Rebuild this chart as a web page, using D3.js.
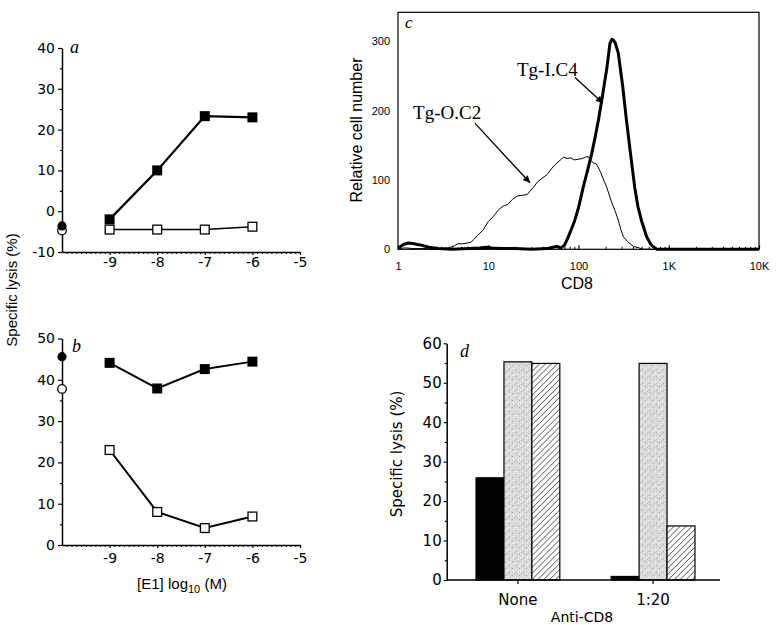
<!DOCTYPE html>
<html><head><meta charset="utf-8">
<script src="https://cdn.jsdelivr.net/npm/d3@7"></script>
<style>body{margin:0;background:#fff}svg{display:block}</style>
</head><body>
<script>
// ---------- data ----------
const doseLog = [-9, -8, -7, -6];
const doseTicks = [-9, -8, -7, -6, -5];
const aFilled = [-2.0, 10.0, 23.3, 23.0];
const aOpen = [-4.5, -4.5, -4.5, -3.8];
const aNoPeptide = [-3.6, -4.7];          // filled, open (no peptide)
const aYTicks = [-10, 0, 10, 20, 30, 40];
const bFilled = [44.1, 37.9, 42.6, 44.4];
const bOpen = [23.0, 8.0, 4.1, 6.9];
const bNoPeptide = [45.6, 37.8];
const bYTicks = [0, 10, 20, 30, 40, 50];

const cTicksX = [1, 10, 100, 1000, 10000];
const cTickLabelsX = ["1", "10", "100", "1K", "10K"];
const cTicksY = [0, 100, 200, 300];
const cNames = ["Tg-O.C2", "Tg-I.C4"];
const tgOC2 = [[1.0,1],[1.2,2],[1.5,1],[2.0,1],[2.5,0],[3.0,1],[3.6,2],[4.2,5],[4.6,8],[5.2,8],[5.8,9],[6.4,10],[6.9,14],[7.6,20],[8.8,28],[10,40],[11.5,48],[13,57],[14.5,62],[16.5,65],[18.5,72],[21,77],[24,78],[27,79],[29,84],[31.5,89],[35,97],[40,103],[45,108],[50,116],[55,122],[62,128],[68,133],[75,131],[82,132],[90,129],[100,130],[110,131],[120,133],[128,134],[135,129],[145,125],[158,123],[175,112],[190,100],[205,90],[230,70],[255,55],[276,42],[295,28],[315,18],[350,11],[408,4],[470,2],[520,0],[10000,0]];
const tgIC4 = [[1.0,2],[1.15,7],[1.3,9],[1.5,8],[1.8,6],[2.2,3],[2.8,1],[4,0],[6,1],[8,2],[9.5,3],[11,2],[14,1],[20,1],[30,0],[45,1],[52,3],[58,4],[64,2],[70,6],[77,18],[84,30],[91,42],[100,60],[113,90],[126,114],[140,138],[153,162],[166,186],[181,215],[193,238],[205,259],[223,297],[235,303],[243,302],[255,298],[276,283],[309,235],[340,186],[377,138],[419,90],[455,62],[497,42],[569,18],[640,6],[735,0],[10000,0]];

const dGroups = ["None", "1:20"];
const dSeries = ["solid", "stippled", "hatched"];
const dSolid = [25.9, 0.9];
const dStippled = [55.3, 54.9];
const dHatched = [54.9, 13.7];
const dYTicks = [0, 10, 20, 30, 40, 50, 60];

// ---------- drawing ----------
const svg = d3.select("body").append("svg").attr("width", 779).attr("height", 625)
  .style("background", "#fff");
const defs = svg.append("defs");

const NUMFONT = "'DejaVu Sans', sans-serif";
const SANS = "'Liberation Sans', Arial, sans-serif";
const SERIF = "'Liberation Serif', 'Times New Roman', serif";
const plain = d => String(d);

function styleAxis(g, font, size) {
  g.attr("font-family", font).attr("font-size", size);
  g.selectAll("text").attr("fill", "#000");
  g.selectAll("line").attr("stroke", "#000").attr("stroke-width", 1.2);
  g.selectAll("path.domain").attr("stroke", "#000").attr("stroke-width", 1.5);
}

function linePanel(opt) {
  const x = d3.scaleLinear().domain([-10, -5]).range([62, 300]);
  const y = d3.scaleLinear().domain(opt.yDomain).range(opt.yRange);
  const g = svg.append("g");
  // y axis
  const ya = g.append("g").attr("transform", `translate(${x(-10)},0)`)
    .call(d3.axisLeft(y).tickValues(opt.yTicks).tickFormat(plain).tickSizeInner(4).tickSizeOuter(0).tickPadding(3));
  styleAxis(ya, NUMFONT, 14);
  const yMinor = d3.range(opt.yDomain[0] + 5, opt.yDomain[1], 10);
  const ym = g.append("g").attr("transform", `translate(${x(-10)},0)`)
    .call(d3.axisLeft(y).tickValues(yMinor).tickSize(2).tickFormat(""));
  ym.select(".domain").remove();
  styleAxis(ym, NUMFONT, 14);
  // x axis
  const xa = g.append("g").attr("transform", `translate(0,${y(opt.yDomain[0])})`)
    .call(d3.axisBottom(x).tickValues(doseTicks).tickFormat(plain).tickSizeInner(3).tickSizeOuter(0).tickPadding(opt.xPad));
  styleAxis(xa, NUMFONT, 14);
  const xMinor = d3.range(-99, -50).map(v => v / 10).filter(v => Math.abs(v - Math.round(v)) > 1e-6);
  const xm = g.append("g").attr("transform", `translate(0,${y(opt.yDomain[0])})`)
    .call(d3.axisBottom(x).tickValues(xMinor).tickSize(2).tickFormat(""));
  xm.select(".domain").remove();
  styleAxis(xm, NUMFONT, 14);
  xm.selectAll("line").attr("stroke-width", 1);

  const line = d3.line().x((d, i) => x(doseLog[i])).y(d => y(d));
  g.append("path").datum(opt.open).attr("d", line).attr("fill", "none")
    .attr("stroke", "#000").attr("stroke-width", opt.openW);
  g.append("path").datum(opt.filled).attr("d", line).attr("fill", "none")
    .attr("stroke", "#000").attr("stroke-width", opt.filledW);
  const s = 10;
  g.selectAll(".of").data(opt.open).join("rect")
    .attr("x", (d, i) => x(doseLog[i]) - s / 2 + 0.6).attr("y", d => y(d) - s / 2 + 0.6)
    .attr("width", s - 1.2).attr("height", s - 1.2)
    .attr("fill", "#fff").attr("stroke", "#000").attr("stroke-width", 1.3);
  g.selectAll(".ff").data(opt.filled).join("rect")
    .attr("x", (d, i) => x(doseLog[i]) - s / 2).attr("y", d => y(d) - s / 2)
    .attr("width", s).attr("height", s).attr("fill", "#000");
  // no-peptide controls on the axis
  g.append("circle").attr("cx", x(-10)).attr("cy", y(opt.noPep[1])).attr("r", 4.3)
    .attr("fill", "#fff").attr("stroke", "#000").attr("stroke-width", 1.3);
  g.append("circle").attr("cx", x(-10)).attr("cy", y(opt.noPep[0])).attr("r", 4.6)
    .attr("fill", "#000");
  g.append("text").attr("x", opt.letterX).attr("y", opt.letterY).text(opt.letter)
    .attr("font-family", SERIF).attr("font-style", "italic").attr("font-size", 18);
  return {x, y};
}

linePanel({yDomain: [-10, 40], yRange: [252, 48], yTicks: aYTicks, filled: aFilled, open: aOpen,
  noPep: aNoPeptide, filledW: 2.2, openW: 1.4, xPad: 2, letter: "a", letterX: 70, letterY: 53});
linePanel({yDomain: [0, 50], yRange: [545, 338.5], yTicks: bYTicks, filled: bFilled, open: bOpen,
  noPep: bNoPeptide, filledW: 2, openW: 2, xPad: 5, letter: "b", letterX: 72, letterY: 352});

svg.append("text").attr("transform", "translate(17,290) rotate(-90)")
  .attr("text-anchor", "middle").attr("font-family", SANS).attr("font-size", 15)
  .text("Specific lysis (%)");
const xl = svg.append("text").attr("x", 182).attr("y", 589).attr("text-anchor", "middle")
  .attr("font-family", SANS).attr("font-size", 15);
xl.append("tspan").text("[E1] log");
xl.append("tspan").attr("dy", 4).attr("font-size", 11).text("10");
xl.append("tspan").attr("dy", -4).text(" (M)");

// ---------- panel c ----------
{
  const x = d3.scaleLog().domain([1, 10000]).range([398, 759]);
  const y = d3.scaleLinear().domain([0, 342]).range([249.3, 12.3]);
  const g = svg.append("g");
  g.append("rect").attr("x", x(1)).attr("y", y(342)).attr("width", x(10000) - x(1))
    .attr("height", y(0) - y(342)).attr("fill", "none").attr("stroke", "#000").attr("stroke-width", 1.2);
  const xa = g.append("g").attr("transform", `translate(0,${y(0)})`)
    .call(d3.axisBottom(x).tickValues(cTicksX).tickFormat((d, i) => cTickLabelsX[i])
      .tickSizeInner(-4).tickSizeOuter(0).tickPadding(13));
  xa.select(".domain").remove();
  styleAxis(xa, SANS, 11);
  const minor = [];
  [1, 10, 100, 1000].forEach(dec => d3.range(2, 10).forEach(k => minor.push(k * dec)));
  const xm = g.append("g").attr("transform", `translate(0,${y(0)})`)
    .call(d3.axisBottom(x).tickValues(minor).tickSize(-2.5).tickFormat(""));
  xm.select(".domain").remove();
  styleAxis(xm, SANS, 11);
  xm.selectAll("line").attr("stroke-width", 1);
  const ya = g.append("g").attr("transform", `translate(${x(1)},0)`)
    .call(d3.axisLeft(y).tickValues(cTicksY).tickSize(0).tickPadding(8));
  ya.select(".domain").remove();
  styleAxis(ya, SANS, 11);

  const line = d3.line().x(d => x(d[0])).y(d => y(d[1]));
  g.append("path").datum(tgOC2).attr("d", line).attr("fill", "none")
    .attr("stroke", "#000").attr("stroke-width", 1);
  g.append("path").datum(tgIC4).attr("d", line).attr("fill", "none")
    .attr("stroke", "#000").attr("stroke-width", 3).attr("stroke-linejoin", "round");

  defs.append("marker").attr("id", "arr").attr("viewBox", "0 0 10 10")
    .attr("refX", 10).attr("refY", 5).attr("markerWidth", 11).attr("markerHeight", 7)
    .attr("markerUnits", "userSpaceOnUse").attr("orient", "auto")
    .append("path").attr("d", "M0,0 L10,5 L0,10 Z").attr("fill", "#000");

  const ann = [
    {name: cNames[0], lx: 1.47, ly: 188, from: [7.1, 182], to: [29, 96]},
    {name: cNames[1], lx: 20.8, ly: 250, from: [91.4, 248], to: [186, 211]}
  ];
  ann.forEach(a => {
    g.append("text").attr("x", x(a.lx)).attr("y", y(a.ly)).text(a.name)
      .attr("font-family", SERIF).attr("font-size", 19);
    g.append("line").attr("x1", x(a.from[0])).attr("y1", y(a.from[1]))
      .attr("x2", x(a.to[0])).attr("y2", y(a.to[1]))
      .attr("stroke", "#000").attr("stroke-width", 1.3).attr("marker-end", "url(#arr)");
  });
  g.append("text").attr("x", 405).attr("y", 28).text("c")
    .attr("font-family", SERIF).attr("font-style", "italic").attr("font-size", 17);
  g.append("text").attr("transform", "translate(362,130) rotate(-90)").attr("text-anchor", "middle")
    .attr("font-family", SANS).attr("font-size", 16).text("Relative cell number");
  g.append("text").attr("x", 577).attr("y", 289).attr("text-anchor", "middle")
    .attr("font-family", SANS).attr("font-size", 16).text("CD8");
}

// ---------- panel d ----------
{
  const st = defs.append("pattern").attr("id", "stipple").attr("patternUnits", "userSpaceOnUse")
    .attr("width", 7).attr("height", 7);
  st.append("rect").attr("width", 7).attr("height", 7).attr("fill", "#dadada");
  [[1,1,"#a8a8a8"],[4,2,"#f2f2f2"],[2,4,"#f5f5f5"],[5,5,"#b0b0b0"],[6,0,"#c4c4c4"],[0,6,"#eeeeee"],[3,6,"#bcbcbc"]]
    .forEach(p => st.append("rect").attr("x", p[0]).attr("y", p[1]).attr("width", 1).attr("height", 1).attr("fill", p[2]));
  const ht = defs.append("pattern").attr("id", "hatch").attr("patternUnits", "userSpaceOnUse")
    .attr("width", 4.2).attr("height", 4.2).attr("patternTransform", "rotate(45)");
  ht.append("rect").attr("width", 4.2).attr("height", 4.2).attr("fill", "#fff");
  ht.append("line").attr("x1", 0).attr("y1", 0).attr("x2", 0).attr("y2", 4.2)
    .attr("stroke", "#000").attr("stroke-width", 1);
  const fills = {solid: "#000", stippled: "url(#stipple)", hatched: "url(#hatch)"};
  const vals = {solid: dSolid, stippled: dStippled, hatched: dHatched};

  const x0 = d3.scaleBand().domain(dGroups).range([449, 722]).paddingInner(0.38).paddingOuter(0.2);
  const x1 = d3.scaleBand().domain(dSeries).range([0, x0.bandwidth()]).padding(0);
  const y = d3.scaleLinear().domain([0, 60]).range([580, 343.3]);
  const g = svg.append("g");

  dSeries.forEach(s => {
    g.selectAll(".b-" + s).data(vals[s]).join("rect")
      .attr("x", (d, i) => x0(dGroups[i]) + x1(s)).attr("y", d => y(d))
      .attr("width", x1.bandwidth()).attr("height", d => y(0) - y(d))
      .attr("fill", fills[s]).attr("stroke", "#000").attr("stroke-width", 1.2);
  });

  const ya = g.append("g").attr("transform", `translate(446.7,0)`)
    .call(d3.axisLeft(y).tickValues(dYTicks).tickFormat(plain).tickSizeInner(3).tickSizeOuter(0).tickPadding(2));
  styleAxis(ya, NUMFONT, 15);
  const ym = g.append("g").attr("transform", `translate(446.7,0)`)
    .call(d3.axisLeft(y).tickValues(d3.range(5, 60, 10)).tickSize(2).tickFormat(""));
  ym.select(".domain").remove();
  styleAxis(ym, NUMFONT, 15);
  g.append("line").attr("x1", 446.7).attr("x2", 720).attr("y1", y(0)).attr("y2", y(0))
    .attr("stroke", "#000").attr("stroke-width", 1.5);
  const xa = g.append("g").attr("transform", `translate(0,${y(0)})`)
    .call(d3.axisBottom(x0).tickSizeInner(4).tickSizeOuter(0).tickPadding(10));
  xa.select(".domain").remove();
  styleAxis(xa, NUMFONT, 15);

  g.append("text").attr("x", 460).attr("y", 357).text("d")
    .attr("font-family", SERIF).attr("font-style", "italic").attr("font-size", 18);
  g.append("text").attr("transform", "translate(402,454) rotate(-90)").attr("text-anchor", "middle")
    .attr("font-family", NUMFONT).attr("font-size", 15).text("Specific lysis (%)");
  g.append("text").attr("x", 582).attr("y", 622).attr("text-anchor", "middle")
    .attr("font-family", NUMFONT).attr("font-size", 14).text("Anti-CD8");
}
</script>
</body></html>
